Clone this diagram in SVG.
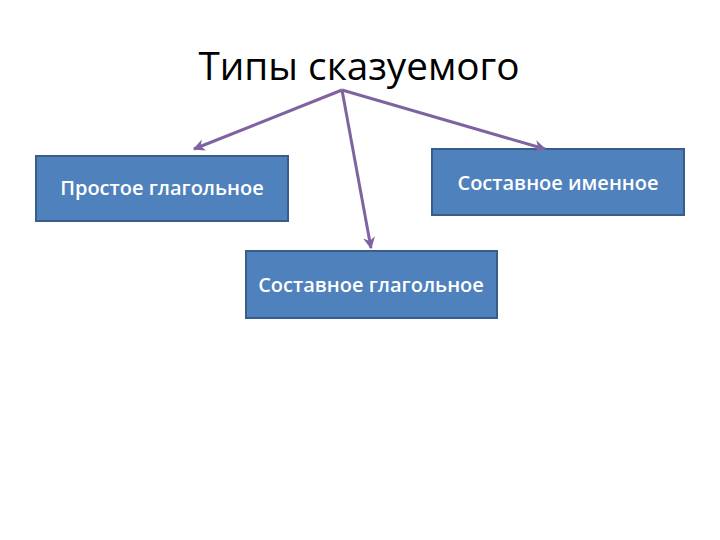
<svg xmlns="http://www.w3.org/2000/svg" width="720" height="540" viewBox="0 0 720 540">
<style>
.box{fill:#4F81BD;stroke:#385D8A;stroke-width:2}
.lbl{fill:#fff;font-family:"Open Sans","Liberation Sans",sans-serif;font-size:20px;font-weight:600;text-anchor:middle}
.conn{stroke:#7F63A1;stroke-width:3;fill:none;marker-end:url(#ah)}
</style>
<defs>
<marker id="ah" viewBox="0 0 10 10" refX="9" refY="5" markerWidth="4" markerHeight="4" orient="auto" markerUnits="strokeWidth">
<path d="M0,0 L10,5 L0,10 L3,5 Z" fill="#7F63A1"/>
</marker>
</defs>
<rect width="720" height="540" fill="#fff"/>
<text x="359" y="80" font-family="'Open Sans','Liberation Sans',sans-serif" font-size="38.7" text-anchor="middle" fill="#000">Типы сказуемого</text>
<g id="n1"><rect class="box" x="36" y="156" width="252" height="65"/><text class="lbl" x="162" y="195">Простое глагольное</text></g>
<g id="n2"><rect class="box" x="432" y="149" width="252" height="66"/><text class="lbl" x="558" y="190">Составное именное</text></g>
<g id="n3"><rect class="box" x="246" y="251" width="251" height="67"/><text class="lbl" x="371" y="292">Составное глагольное</text></g>
<g id="connectors">
<line class="conn" x1="342" y1="90" x2="194" y2="149"/>
<line class="conn" x1="342" y1="90" x2="371" y2="248"/>
<line class="conn" x1="342" y1="90" x2="545" y2="149"/>
</g>
</svg>
